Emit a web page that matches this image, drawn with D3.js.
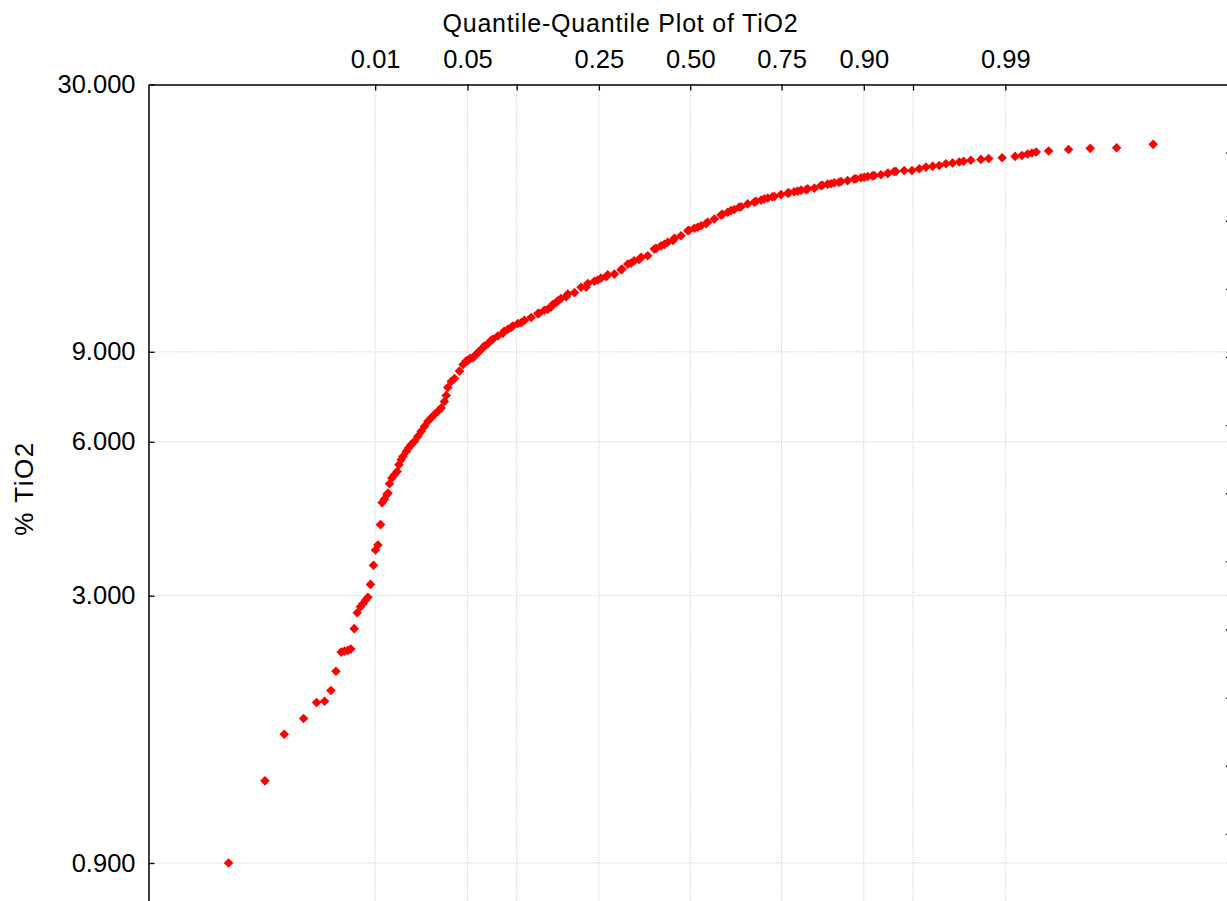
<!DOCTYPE html>
<html lang="en">
<head>
<meta charset="UTF-8">
<title>Quantile-Quantile Plot of TiO2</title>
<style>
  body { margin: 0; background: #fff; }
  svg { display: block; font-family: "Liberation Sans", Arial, sans-serif; }
</style>
</head>
<body>
<svg id="chart"></svg>
<script src="https://d3js.org/d3.v7.min.js"></script>
<script>
// expected normal quantile of each plotted point (x axis)
const normalQuantile = [
  -3.409, -3.140, -2.998, -2.855, -2.759, -2.700, -2.653, -2.616, -2.577, -2.553,
  -2.528, -2.506, -2.481, -2.459, -2.435, -2.417, -2.398, -2.380, -2.361, -2.339,
  -2.324, -2.306, -2.287, -2.275, -2.258, -2.240, -2.232, -2.221, -2.203, -2.184,
  -2.164, -2.151, -2.134, -2.122, -2.097, -2.080, -2.061, -2.036, -2.011, -1.987,
  -1.962, -1.937, -1.913, -1.889, -1.863, -1.839, -1.815, -1.802, -1.790, -1.765,
  -1.741, -1.704, -1.677, -1.655, -1.642, -1.625, -1.605, -1.593, -1.568, -1.559,
  -1.531, -1.520, -1.494, -1.470, -1.458, -1.421, -1.384, -1.374, -1.347, -1.323,
  -1.310, -1.273, -1.249, -1.224, -1.175, -1.125, -1.116, -1.077, -1.052, -1.027,
  -1.013, -0.990, -0.978, -0.954, -0.917, -0.904, -0.855, -0.806, -0.769, -0.756,
  -0.708, -0.683, -0.659, -0.621, -0.609, -0.560, -0.511, -0.503, -0.461, -0.437,
  -0.413, -0.378, -0.363, -0.314, -0.265, -0.252, -0.215, -0.191, -0.166, -0.127,
  -0.117, -0.068, -0.018, -0.009, 0.030, 0.055, 0.080, 0.117, 0.129, 0.178,
  0.227, 0.238, 0.277, 0.301, 0.325, 0.360, 0.375, 0.424, 0.473, 0.486,
  0.523, 0.547, 0.572, 0.607, 0.621, 0.670, 0.720, 0.729, 0.768, 0.793,
  0.818, 0.855, 0.867, 0.916, 0.965, 0.976, 1.015, 1.039, 1.063, 1.098,
  1.113, 1.162, 1.211, 1.224, 1.261, 1.285, 1.310, 1.345, 1.359, 1.408,
  1.458, 1.460, 1.506, 1.519, 1.580, 1.637, 1.691, 1.740, 1.790, 1.838,
  1.888, 1.937, 1.986, 2.018, 2.072, 2.146, 2.203, 2.303, 2.399, 2.449,
  2.491, 2.523, 2.554, 2.646, 2.793, 2.953, 3.148, 3.418
];
// sorted TiO2 values in % (y axis)
const tio2Percent = [
  0.900, 1.303, 1.607, 1.725, 1.854, 1.865, 1.957, 2.135, 2.327, 2.337,
  2.345, 2.359, 2.586, 2.779, 2.855, 2.893, 2.940, 2.980, 3.157, 3.440,
  3.686, 3.770, 4.132, 4.563, 4.634, 4.726, 4.762, 4.966, 5.095, 5.171,
  5.249, 5.410, 5.534, 5.617, 5.746, 5.835, 5.923, 6.012, 6.150, 6.290,
  6.434, 6.580, 6.683, 6.784, 6.884, 6.991, 7.194, 7.392, 7.664, 7.874,
  7.981, 8.250, 8.502, 8.631, 8.659, 8.737, 8.765, 8.828, 8.965, 9.017,
  9.169, 9.235, 9.335, 9.476, 9.520, 9.661, 9.780, 9.870, 9.959, 10.04,
  10.11, 10.22, 10.26, 10.37, 10.50, 10.69, 10.71, 10.85, 10.90, 11.02,
  11.15, 11.24, 11.32, 11.44, 11.53, 11.67, 11.75, 12.04, 12.04, 12.24,
  12.37, 12.44, 12.54, 12.62, 12.73, 12.77, 13.02, 13.06, 13.36, 13.42,
  13.56, 13.64, 13.77, 13.87, 14.30, 14.34, 14.51, 14.60, 14.74, 14.86,
  15.01, 15.18, 15.53, 15.56, 15.70, 15.77, 15.88, 16.04, 16.13, 16.37,
  16.67, 16.71, 16.87, 17.00, 17.08, 17.26, 17.30, 17.52, 17.66, 17.73,
  17.82, 17.92, 17.98, 18.10, 18.11, 18.27, 18.39, 18.41, 18.50, 18.56,
  18.64, 18.68, 18.75, 18.81, 19.03, 19.05, 19.15, 19.19, 19.27, 19.32,
  19.38, 19.46, 19.59, 19.62, 19.71, 19.76, 19.82, 19.88, 19.91, 19.98,
  20.09, 20.13, 20.27, 20.28, 20.37, 20.37, 20.52, 20.68, 20.77, 20.83,
  20.99, 21.06, 21.16, 21.23, 21.33, 21.41, 21.50, 21.57, 21.70, 21.79,
  21.93, 22.03, 22.13, 22.24, 22.39, 22.50, 22.57, 22.91
];

// probability ticks on the top axis (labels left blank where the original has none)
const probTicks = [0.01, 0.05, 0.10, 0.25, 0.50, 0.75, 0.90, 0.95, 0.99];
const probLabels = ["0.01", "0.05", "", "0.25", "0.50", "0.75", "0.90", "", "0.99"];
const yTicks = [30, 9, 6, 3, 0.9];
const rightTicks = [1, 2, 3, 4, 5, 6, 7, 8, 9, 10, 11];

const width = 1227, height = 901;
const marginLeft = 148.5, marginTop = 84.5;
const plotRight = 1232, plotBottom = 902;

// inverse normal cdf (Acklam approximation) to place the probability ticks
function probit(p) {
  const a = [-3.969683028665376e+01, 2.209460984245205e+02, -2.759285104469687e+02, 1.383577518672690e+02, -3.066479806614716e+01, 2.506628277459239e+00];
  const b = [-5.447609879822406e+01, 1.615858368580409e+02, -1.556989798598866e+02, 6.680131188771972e+01, -1.328068155288572e+01];
  const c = [-7.784894002430293e-03, -3.223964580411365e-01, -2.400758277161838e+00, -2.549732539343734e+00, 4.374664141464968e+00, 2.938163982698783e+00];
  const d = [7.784695709041462e-03, 3.224671290700398e-01, 2.445134137142996e+00, 3.754408661907416e+00];
  const pl = 0.02425;
  let q, r;
  if (p < pl) {
    q = Math.sqrt(-2 * Math.log(p));
    return (((((c[0] * q + c[1]) * q + c[2]) * q + c[3]) * q + c[4]) * q + c[5]) / ((((d[0] * q + d[1]) * q + d[2]) * q + d[3]) * q + 1);
  }
  if (p > 1 - pl) {
    q = Math.sqrt(-2 * Math.log(1 - p));
    return -(((((c[0] * q + c[1]) * q + c[2]) * q + c[3]) * q + c[4]) * q + c[5]) / ((((d[0] * q + d[1]) * q + d[2]) * q + d[3]) * q + 1);
  }
  q = p - 0.5; r = q * q;
  return (((((a[0] * r + a[1]) * r + a[2]) * r + a[3]) * r + a[4]) * r + a[5]) * q / (((((b[0] * r + b[1]) * r + b[2]) * r + b[3]) * r + b[4]) * r + 1);
}

const data = normalQuantile.map((z, i) => ({ z, v: tio2Percent[i] }));

const x = d3.scaleLinear([-4, 4], [marginLeft, plotRight]);
const y = d3.scaleLog([0.755, 30], [plotBottom, marginTop]);
const yRight = d3.scaleLinear([0, 12], [marginTop, plotBottom]);

const svg = d3.select("#chart")
  .attr("width", width)
  .attr("height", height)
  .attr("viewBox", [0, 0, width, height]);

// dotted grid
const grid = svg.append("g")
  .attr("stroke", "#c4c4c4")
  .attr("stroke-width", 1)
  .attr("stroke-dasharray", "1,1.5");

grid.selectAll(".vgrid")
  .data(probTicks)
  .join("line")
  .attr("x1", d => x(probit(d)))
  .attr("x2", d => x(probit(d)))
  .attr("y1", marginTop)
  .attr("y2", plotBottom);

grid.selectAll(".hgrid")
  .data(yTicks.filter(d => d !== 30))
  .join("line")
  .attr("x1", marginLeft)
  .attr("x2", plotRight)
  .attr("y1", d => y(d))
  .attr("y2", d => y(d));

// points
svg.append("g")
  .attr("fill", "#ff0000")
  .selectAll("path")
  .data(data)
  .join("path")
  .attr("transform", d => `translate(${x(d.z)},${y(d.v)}) rotate(45)`)
  .attr("d", d3.symbol(d3.symbolSquare, 46));

// top axis with probability labels
svg.append("g")
  .attr("transform", `translate(0,${marginTop})`)
  .call(d3.axisTop(x)
    .tickValues(probTicks.map(probit))
    .tickFormat((d, i) => probLabels[i])
    .tickSizeInner(-6)
    .tickSizeOuter(0)
    .tickPadding(17))
  .call(g => g.select(".domain").attr("stroke-width", 1.5))
  .call(g => g.selectAll(".tick line").attr("stroke-width", 1.3))
  .call(g => g.selectAll("text").attr("font-size", 25.5).attr("font-family", null).attr("fill", "#000"));

// left log axis
svg.append("g")
  .attr("transform", `translate(${marginLeft},0)`)
  .call(d3.axisLeft(y)
    .tickValues(yTicks)
    .tickFormat(d3.format(".3f"))
    .tickSizeInner(-6)
    .tickSizeOuter(0)
    .tickPadding(13))
  .call(g => g.select(".domain").attr("stroke-width", 1.5))
  .call(g => g.selectAll(".tick line").attr("stroke-width", 1.3))
  .call(g => g.selectAll("text").attr("font-size", 25.5).attr("font-family", null).attr("fill", "#000"));

// right axis, only its inner ticks fall inside the picture
svg.append("g")
  .attr("transform", `translate(${plotRight},0)`)
  .call(d3.axisRight(yRight)
    .tickValues(rightTicks)
    .tickFormat("")
    .tickSizeInner(-6)
    .tickSizeOuter(0))
  .call(g => g.selectAll(".tick line").attr("stroke-width", 1.3));

// title
svg.append("text")
  .attr("x", 620.5)
  .attr("y", 32)
  .attr("text-anchor", "middle")
  .attr("font-size", 25)
  .attr("letter-spacing", 0.8)
  .text("Quantile-Quantile Plot of TiO2");

// y label
svg.append("text")
  .attr("transform", "translate(33,488.5) rotate(-90)")
  .attr("text-anchor", "middle")
  .attr("font-size", 26)
  .attr("letter-spacing", 1.5)
  .text("% TiO2");
</script>
</body>
</html>
